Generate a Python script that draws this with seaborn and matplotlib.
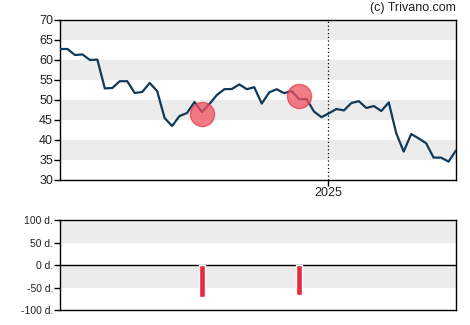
import numpy as np
import pandas as pd
import matplotlib
matplotlib.use("Agg")
import matplotlib.pyplot as plt
import seaborn as sns

# ---- data ----
start_date = "2024-04-25"
prices = [62.75, 62.75, 61.25, 61.4, 60.0, 60.1, 52.9, 53.0, 54.7, 54.7,
          51.75, 52.0, 54.25, 52.25, 45.5, 43.5, 46.0, 46.75, 49.5, 47.0,
          49.0, 51.25, 52.7, 52.75, 53.9, 52.7, 53.2, 49.1, 51.9, 52.7,
          51.7, 52.25, 50.2, 50.25, 47.1, 45.7, 46.7, 47.75, 47.4, 49.25,
          49.7, 48.0, 48.5, 47.25, 49.4, 41.7, 37.1, 41.5, 40.4, 39.2,
          35.6, 35.6, 34.6, 37.4]
signal_dates = ["2024-09-05", "2024-12-05"]
signal_prices = [46.5, 51.0]
signal_days = [-70, -66]
year_marker = "2025-01-01"
year_label = "2025"
price_ticks = [30, 35, 40, 45, 50, 55, 60, 65, 70]
day_ticks = [-100, -50, 0, 50, 100]
day_labels = ["-100 d.", "-50 d.", "0 d.", "50 d.", "100 d."]
credit = "(c) Trivano.com"

dates = pd.date_range(start_date, periods=len(prices), freq="7D")
df = pd.DataFrame({"date": dates, "price": prices})
sig = pd.DataFrame({"date": pd.to_datetime(signal_dates),
                    "price": signal_prices, "days": signal_days})

sns.set_style("white")
plt.rcParams["font.family"] = ["Liberation Sans", "DejaVu Sans"]

fig = plt.figure(figsize=(4.7, 3.25), dpi=100)
ax = fig.add_axes([60/470, 1-180/325, 396/470, 160/325])
ax2 = fig.add_axes([60/470, 1-310/325, 396/470, 89.7/325])

band = "#ececec"
# price bands
for lo in [35, 45, 55, 65]:
    ax.axhspan(lo, lo + 5, color=band, lw=0, zorder=0)
ax.axvline(pd.Timestamp(year_marker), color="black", lw=0.9, ls=(0, (1, 2)), zorder=1)

sns.lineplot(data=df, x="date", y="price", ax=ax, color="#0f3a5a", lw=1.6, zorder=3)
sns.scatterplot(data=sig, x="date", y="price", ax=ax, s=300, color="#f0505f",
                edgecolor="#e83a4c", linewidth=1, alpha=0.75, zorder=4, legend=False)

ax.set_xlim(dates[0], dates[-1])
ax.set_ylim(30, 70)
ax.set_yticks(price_ticks)
ax.set_xticks([pd.Timestamp(year_marker)])
ax.set_xticklabels([year_label])
ax.set_xlabel("")
ax.set_ylabel("")
ax.tick_params(axis="both", direction="out", length=4, width=1, color="black",
               labelsize=9, labelcolor="#222222", pad=1, left=True, bottom=True)
for s in ax.spines.values():
    s.set_color("black")
    s.set_linewidth(1)

fig.text(456/470, 1-8/325, credit, ha="right", va="center", fontsize=9, color="#222222")

# bottom panel
ax2.axhspan(50, 100, color=band, lw=0, zorder=0)
ax2.axhspan(-50, 0, color=band, lw=0, zorder=0)
ax2.axhline(0, color="black", lw=1, zorder=2)
ax2.bar(sig["date"], sig["days"], width=5.2, color="#e8283c", zorder=3)
ax2.set_xlim(dates[0], dates[-1])
ax2.set_ylim(-100, 100)
ax2.set_yticks(day_ticks)
ax2.set_yticklabels(day_labels)
ax2.set_xticks([])
ax2.tick_params(axis="y", direction="out", length=4, width=1, color="black",
                labelsize=7.5, labelcolor="#222222", pad=1, left=True)
for s in ax2.spines.values():
    s.set_color("black")
    s.set_linewidth(1)

fig.savefig("out.png", dpi=100)
